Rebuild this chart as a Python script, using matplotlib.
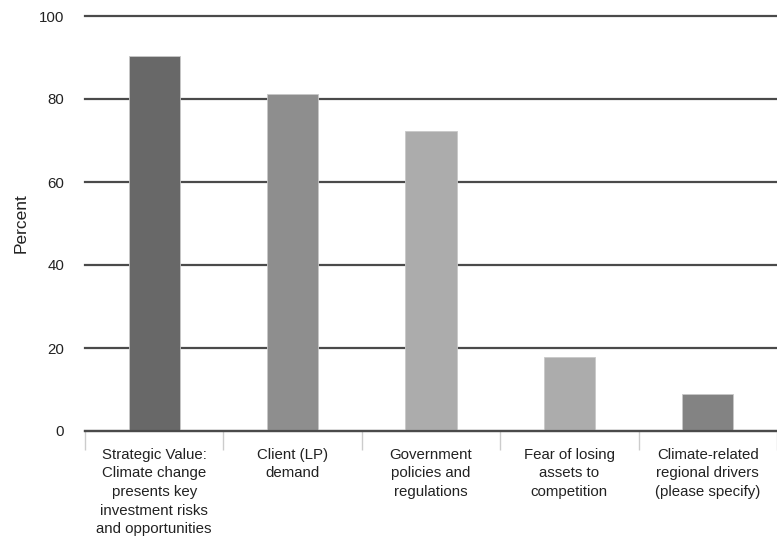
import numpy as np
import matplotlib.pyplot as plt
from matplotlib.ticker import FixedLocator

plt.rcParams['font.family'] = ['Liberation Sans', 'DejaVu Sans']

categories = [
    'Strategic Value:\nClimate change\npresents key\ninvestment risks\nand opportunities',
    'Client (LP)\ndemand',
    'Government\npolicies and\nregulations',
    'Fear of losing\nassets to\ncompetition',
    'Climate-related\nregional drivers\n(please specify)',
]
values = [90.4, 81.3, 72.3, 17.9, 8.9]
bar_colors = ['#686868', '#8e8e8e', '#acacac', '#acacac', '#838383']
yticks = [0, 20, 40, 60, 80, 100]

fig = plt.figure(figsize=(7.77, 5.42), dpi=100)
ax = fig.add_axes([85 / 777, 1 - 431 / 542, 692 / 777, 415 / 542])

x = np.arange(len(categories))
ax.bar(x, values, width=0.37, color=bar_colors, edgecolor='#c8c8c8',
       linewidth=0.6, zorder=3)

ax.set_xlim(-0.5, len(categories) - 0.5)
ax.set_ylim(0, 100)
ax.set_yticks(yticks)
ax.yaxis.grid(True, color='#4a4a4a', linewidth=1.6, zorder=1)
for gl in ax.get_ygridlines():
    gl.set_clip_on(False)
ax.set_axisbelow(True)

for s in ['left', 'right', 'top']:
    ax.spines[s].set_visible(False)
ax.spines['bottom'].set_color('#4a4a4a')
ax.spines['bottom'].set_linewidth(1.6)
ax.spines['bottom'].set_zorder(4)

ax.set_xticks(x)
ax.set_xticklabels(categories, fontsize=10.8, color='#222222', linespacing=1.42,
                   va='top')
ax.tick_params(axis='x', which='major', length=0, pad=12)
ax.xaxis.set_minor_locator(FixedLocator(np.arange(-0.5, len(categories), 1.0)))
ax.tick_params(axis='x', which='minor', length=14, color='#cccccc', width=1)
ax.tick_params(axis='y', length=0, pad=15, labelsize=10.8, labelcolor='#222222')

ax.set_ylabel('Percent', fontsize=12.5, color='#222222', labelpad=7)

fig.savefig('out.png', dpi=100)
